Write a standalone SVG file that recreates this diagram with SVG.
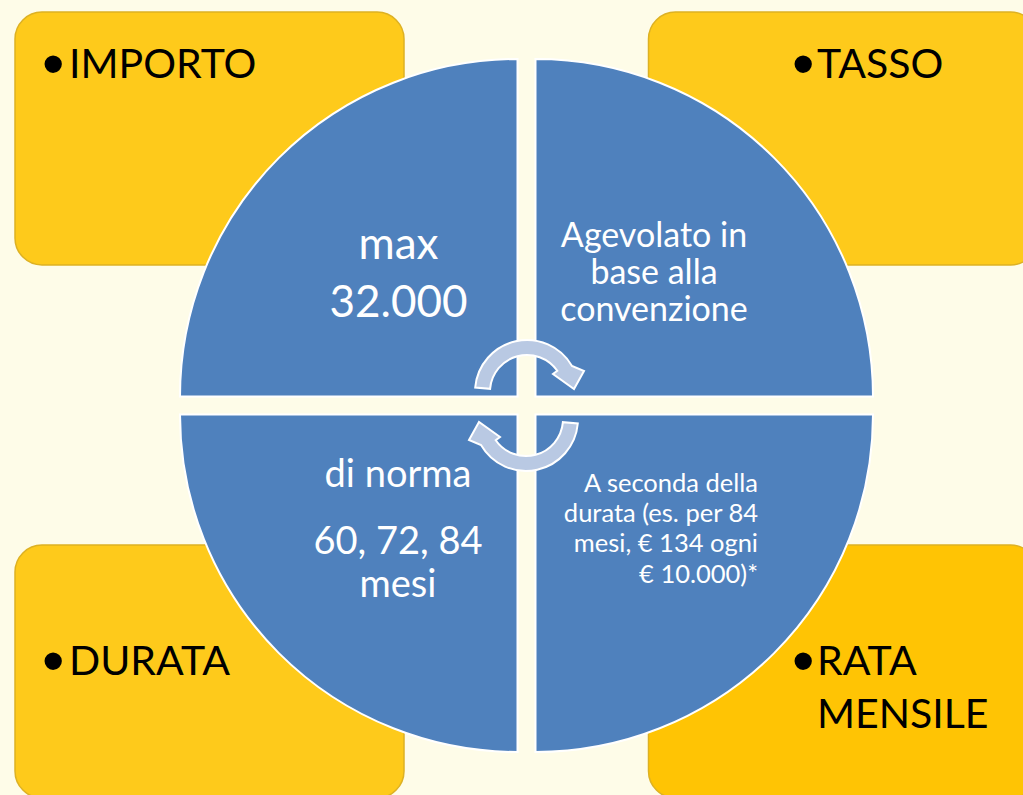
<svg xmlns="http://www.w3.org/2000/svg" width="1023" height="795" viewBox="0 0 1023 795">
<style>
.box{fill:#FECA1B;stroke:#DDB123;stroke-width:1.5}
.box2{fill:#FFC404;stroke:#DDB123;stroke-width:1.5}
.lbl{font-family:Lato,"Liberation Sans",sans-serif;font-size:41px;fill:#000}
.bul{font-family:"Liberation Sans",sans-serif;font-size:64px;fill:#000}
.q{fill:#4F81BD;stroke:#FFFFFF;stroke-width:2}
.t{font-family:Lato,"Liberation Sans",sans-serif;fill:#FFFFFF}
.arr{fill:#B9C9E3;stroke:#FFFFFF;stroke-width:2}
</style>
<rect width="1023" height="795" fill="#FEFCE8"/>
<g id="importo">
<rect class="box" x="15" y="12" width="389" height="253" rx="27"/>
<text class="bul" x="42" y="86">•</text>
<text class="lbl" x="69" y="78">IMPORTO</text>
</g>
<g id="tasso">
<rect class="box" x="648.5" y="12" width="389" height="253" rx="27"/>
<text class="bul" x="792" y="86">•</text>
<text class="lbl" x="817" y="78">TASSO</text>
</g>
<g id="durata">
<rect class="box" x="15" y="545" width="389" height="253" rx="27"/>
<text class="bul" x="42" y="683">•</text>
<text class="lbl" x="69" y="675">DURATA</text>
</g>
<g id="rata">
<rect class="box2" x="648.5" y="545" width="389" height="253" rx="27"/>
<text class="bul" x="792" y="683">•</text>
<text class="lbl" x="817" y="675">RATA</text>
<text class="lbl" x="817" y="728">MENSILE</text>
</g>
<g id="q-importo">
<path class="q" d="M517.5,396.5 L180,396.5 A337.5,337.5 0 0 1 517.5,59 Z"/>
<text class="t" x="398.5" y="259" font-size="44" text-anchor="middle">max</text>
<text class="t" x="398.5" y="317" font-size="44" text-anchor="middle">32.000</text>
</g>
<g id="q-tasso">
<path class="q" d="M535.5,396.5 L535.5,59 A337.5,337.5 0 0 1 873,396.5 Z"/>
<text class="t" x="654" y="247" font-size="34" text-anchor="middle">Agevolato in</text>
<text class="t" x="654" y="284" font-size="34" text-anchor="middle">base alla</text>
<text class="t" x="654" y="321" font-size="34" text-anchor="middle">convenzione</text>
</g>
<g id="q-durata">
<path class="q" d="M517.5,414.5 L517.5,752 A337.5,337.5 0 0 1 180,414.5 Z"/>
<text class="t" x="398" y="487" font-size="38" text-anchor="middle">di norma</text>
<text class="t" x="398" y="554" font-size="38" text-anchor="middle">60, 72, 84</text>
<text class="t" x="398" y="597" font-size="38" text-anchor="middle">mesi</text>
</g>
<g id="q-rata">
<path class="q" d="M535.5,414.5 L873,414.5 A337.5,337.5 0 0 1 535.5,752 Z"/>
<text class="t" x="758" y="492" font-size="25.5" text-anchor="end">A seconda della</text>
<text class="t" x="758" y="522" font-size="25.5" text-anchor="end">durata (es. per 84</text>
<text class="t" x="758" y="552" font-size="25.5" text-anchor="end">mesi, € 134 ogni</text>
<text class="t" x="758" y="583" font-size="25.5" text-anchor="end">€ 10.000)*</text>
</g>
<g id="connectors">
<path class="arr" d="M475.2,387.5 A52,52 0 0 1 572,366 L584,371 L574,389 L553,374 L557.3,370.8 A37,37 0 0 0 490.1,388.8 Z"/>
<path class="arr" transform="rotate(180 526.5 405.5)" d="M475.2,387.5 A52,52 0 0 1 572,366 L584,371 L574,389 L553,374 L557.3,370.8 A37,37 0 0 0 490.1,388.8 Z"/>
</g>
</svg>
